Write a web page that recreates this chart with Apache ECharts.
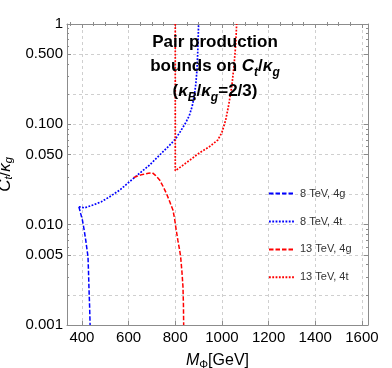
<!DOCTYPE html>
<html><head><meta charset="utf-8">
<script src="https://cdn.jsdelivr.net/npm/echarts@6/dist/echarts.min.js"></script>
<style>html,body{margin:0;padding:0;background:#fff}#c{width:392px;height:368px}</style>
</head><body><div id="c"></div>
<script>
// ---- data ----
const xTickValues = [400, 600, 800, 1000, 1200, 1400, 1600];
const xTickLabels = ['400', '600', '800', '1000', '1200', '1400', '1600'];
const xMinorTicks = [350, 450, 500, 550, 650, 700, 750, 850, 900, 950, 1050, 1100, 1150, 1250, 1300, 1350, 1450, 1500, 1550];
const yTickValues = [0.001, 0.005, 0.01, 0.05, 0.1, 0.5, 1];
const yTickLabels = ['0.001', '0.005', '0.010', '0.050', '0.100', '0.500', '1'];
const yGridValues = [0.001, 0.002, 0.005, 0.01, 0.02, 0.05, 0.1, 0.2, 0.5, 1];
const yMinorTicks = [0.002, 0.003, 0.004, 0.006, 0.007, 0.008, 0.009,
                     0.02, 0.03, 0.04, 0.06, 0.07, 0.08, 0.09,
                     0.2, 0.3, 0.4, 0.6, 0.7, 0.8, 0.9];
const seriesNames = ['8 TeV, 4g', '8 TeV, 4t', '13 TeV, 4g', '13 TeV, 4t'];

const tev8_4g = [[387, 0.0151], [395, 0.0128], [402, 0.0111], [409, 0.0090], [416, 0.0071], [421, 0.0058],
                 [426, 0.0048], [428, 0.0035], [430, 0.0024], [433, 0.0015], [435, 0.001]];
const tev8_4t = [[387, 0.0151], [411, 0.0147], [447, 0.0157], [483, 0.0169], [519, 0.019], [562, 0.0221],
                 [604, 0.0268], [647, 0.0325], [690, 0.0393], [733, 0.0494], [776, 0.062], [800, 0.071],
                 [822, 0.085], [845, 0.104], [860, 0.122], [872, 0.15], [881, 0.19], [888, 0.25],
                 [893, 0.35], [896, 0.5], [898, 0.7], [900, 1.0]];
const tev13_4g = [[622, 0.0295], [645, 0.0310], [661, 0.0317], [685, 0.0325], [702, 0.0329], [715, 0.031],
                  [733, 0.0279], [748, 0.024], [762, 0.0205], [776, 0.017], [790, 0.0140], [797, 0.0115],
                  [803, 0.0092], [811, 0.0070], [818, 0.0057], [823, 0.0048], [829, 0.0033], [833, 0.0024],
                  [835, 0.0016], [836, 0.001]];
const tev13_4t = [[800, 1], [800, 0.0344], [874, 0.046], [904, 0.052], [947, 0.060], [982, 0.0697],
                  [999, 0.082], [1016, 0.110], [1029, 0.156], [1042, 0.236], [1052, 0.39], [1059, 0.62],
                  [1063, 1]];

// ---- chart ----
const FONT = '"Liberation Sans", Arial, sans-serif';
const FRAME = '#8c8c8c';
const GRIDC = '#cfcfcf';
const L10 = v => Math.log10(v);
const yLabelFmt = v => {
  for (let i = 0; i < yTickValues.length; i++) {
    if (Math.abs(L10(yTickValues[i]) - v) < 1e-6) return yTickLabels[i];
  }
  return '';
};
const xLabelFmt = v => {
  const i = xTickValues.indexOf(v);
  return i >= 0 ? xTickLabels[i] : '';
};

function decoAxis(extra) {
  return Object.assign({
    type: 'value', min: -3, max: 0,
    axisLine: { show: false }, axisLabel: { show: false },
    splitLine: { show: false },
    axisTick: { show: false }
  }, extra);
}
function decoX(extra) {
  return Object.assign({
    type: 'value', min: 336, max: 1626,
    axisLine: { show: false }, axisLabel: { show: false },
    splitLine: { show: false },
    axisTick: { show: false }
  }, extra);
}

const chart = echarts.init(document.getElementById('c'), null, { renderer: 'canvas' });
const option = {
  animation: false,
  backgroundColor: '#ffffff',
  grid: { left: 67, right: 24, top: 24, bottom: 43, containLabel: false, outerBoundsMode: 'none' },
  xAxis: [
    {
      type: 'value', min: 336, max: 1626, position: 'bottom',
      axisLine: { show: true, onZero: false, lineStyle: { color: FRAME, width: 1 } },
      axisTick: { show: true, inside: true, length: 4, customValues: xTickValues, lineStyle: { color: FRAME } },
      axisLabel: { show: true, customValues: xTickValues, formatter: xLabelFmt, margin: 5,
                   color: '#000', fontSize: 15, fontFamily: FONT },
      splitLine: { show: true, lineStyle: { color: GRIDC, type: [3, 3], width: 1 } },
      name: '{i|M}{s|Φ}{n|[GeV]}', nameLocation: 'middle', nameGap: 27,
      nameTextStyle: {
        rich: {
          i: { fontSize: 16, fontStyle: 'italic', fontFamily: FONT, color: '#000', lineHeight: 18 },
          s: { fontSize: 11, fontFamily: FONT, color: '#000', lineHeight: 8, verticalAlign: 'bottom' },
          n: { fontSize: 16, fontFamily: FONT, color: '#000', lineHeight: 18 }
        }
      }
    },
    decoX({ position: 'bottom', axisTick: { show: true, inside: true, length: 2, customValues: xMinorTicks, lineStyle: { color: FRAME } } }),
    decoX({ position: 'top', axisLine: { show: true, onZero: false, lineStyle: { color: FRAME, width: 1 } },
            axisTick: { show: true, inside: true, length: 4, customValues: xTickValues, lineStyle: { color: FRAME } } }),
    decoX({ position: 'top', axisTick: { show: true, inside: true, length: 2, customValues: xMinorTicks, lineStyle: { color: FRAME } } })
  ],
  yAxis: [
    { type: 'log', logBase: 10, min: 0.001, max: 1, show: false },
    decoAxis({
      position: 'left',
      axisLine: { show: true, onZero: false, lineStyle: { color: FRAME, width: 1 } },
      axisTick: { show: true, inside: true, length: 4, customValues: yTickValues.map(L10), lineStyle: { color: FRAME } },
      axisLabel: { show: true, customValues: yTickValues.map(L10), formatter: yLabelFmt, margin: 4,
                   color: '#000', fontSize: 15, fontFamily: FONT },
      name: '{i|C}{s|t}{n|/}{i|κ}{s|g}', nameLocation: 'middle', nameGap: 40, nameRotate: 90,
      nameTextStyle: {
        rich: {
          i: { fontSize: 17, fontStyle: 'italic', fontFamily: FONT, color: '#000', lineHeight: 18 },
          s: { fontSize: 11, fontStyle: 'italic', fontFamily: FONT, color: '#000', lineHeight: 8, verticalAlign: 'bottom' },
          n: { fontSize: 17, fontFamily: FONT, color: '#000', lineHeight: 18 }
        }
      }
    }),
    decoAxis({ position: 'left', axisTick: { show: true, inside: true, length: 2, customValues: yMinorTicks.map(L10), lineStyle: { color: FRAME } } }),
    decoAxis({ position: 'left', axisTick: { show: false, customValues: yGridValues.map(L10) },
               splitLine: { show: true, lineStyle: { color: GRIDC, type: [3, 3], width: 1 } } }),
    decoAxis({ position: 'right', axisLine: { show: true, onZero: false, lineStyle: { color: FRAME, width: 1 } },
               axisTick: { show: true, inside: true, length: 4, customValues: yTickValues.map(L10), lineStyle: { color: FRAME } } }),
    decoAxis({ position: 'right', axisTick: { show: true, inside: true, length: 2, customValues: yMinorTicks.map(L10), lineStyle: { color: FRAME } } })
  ],
  legend: {
    orient: 'vertical', left: 263, top: 183,
    itemWidth: 26, itemHeight: 14, itemGap: 16.7,
    itemStyle: { opacity: 0 },
    textStyle: { fontSize: 11, color: '#333', fontFamily: FONT },
    data: seriesNames
  },
  graphic: [{
    type: 'text', x: 215, y: 30, z: 10,
    style: {
      text: '{b|Pair production}\n{b|bounds on }{bi|C}{s|t}{b|/}{bi|κ}{s|g}\n{b|(}{bi|κ}{s|B}{b|/}{bi|κ}{s|g}{b|=2/3)}',
      align: 'center', verticalAlign: 'top',
      rich: {
        b: { fontSize: 17, fontWeight: 'bold', fontFamily: FONT, fill: '#000', lineHeight: 24.5 },
        bi: { fontSize: 17, fontWeight: 'bold', fontStyle: 'italic', fontFamily: FONT, fill: '#000', lineHeight: 24.5 },
        s: { fontSize: 12, fontWeight: 'bold', fontStyle: 'italic', fontFamily: FONT, fill: '#000', lineHeight: 12, verticalAlign: 'bottom' }
      }
    }
  }],
  series: [
    { name: seriesNames[0], type: 'line', data: tev8_4g, symbol: 'none', xAxisIndex: 0, yAxisIndex: 0,
      lineStyle: { color: '#0000ff', width: 1.5, type: [4.5, 2] }, itemStyle: { color: '#0000ff' } },
    { name: seriesNames[1], type: 'line', data: tev8_4t, symbol: 'none', xAxisIndex: 0, yAxisIndex: 0,
      lineStyle: { color: '#0000ff', width: 1.7, type: [1.8, 1.5] }, itemStyle: { color: '#0000ff' } },
    { name: seriesNames[2], type: 'line', data: tev13_4g, symbol: 'none', xAxisIndex: 0, yAxisIndex: 0,
      lineStyle: { color: '#ff0000', width: 1.5, type: [4.5, 2] }, itemStyle: { color: '#ff0000' } },
    { name: seriesNames[3], type: 'line', data: tev13_4t, symbol: 'none', xAxisIndex: 0, yAxisIndex: 0,
      lineStyle: { color: '#ff0000', width: 1.7, type: [1.8, 1.5] }, itemStyle: { color: '#ff0000' } }
  ]
};
chart.setOption(option);
</script>
</body></html>
